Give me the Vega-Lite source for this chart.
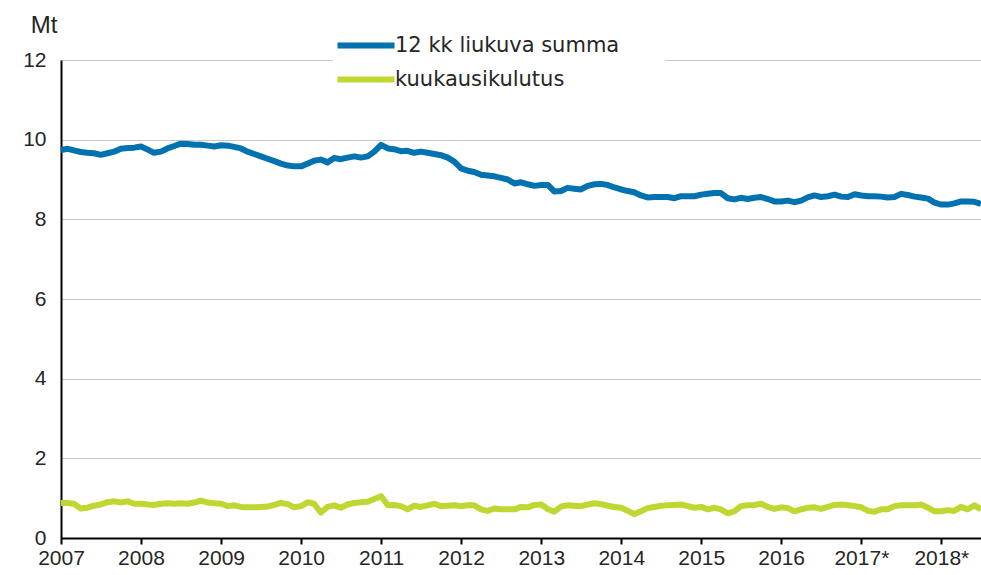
{
  "$schema": "https://vega.github.io/schema/vega-lite/v6.json",
  "width": 920,
  "height": 478,
  "autosize": {"type": "none"},
  "padding": {"left": 61, "top": 60, "right": 0, "bottom": 37},
  "background": "white",
  "config": {
    "view": {"stroke": null},
    "font": "Liberation Sans"
  },
  "data": {
    "values": [
      {"month":"2007-01","12 kk liukuva summa":9.74,"kuukausikulutus":0.88},
      {"month":"2007-02","12 kk liukuva summa":9.77,"kuukausikulutus":0.88},
      {"month":"2007-03","12 kk liukuva summa":9.73,"kuukausikulutus":0.86},
      {"month":"2007-04","12 kk liukuva summa":9.69,"kuukausikulutus":0.74},
      {"month":"2007-05","12 kk liukuva summa":9.67,"kuukausikulutus":0.76},
      {"month":"2007-06","12 kk liukuva summa":9.66,"kuukausikulutus":0.81},
      {"month":"2007-07","12 kk liukuva summa":9.62,"kuukausikulutus":0.84},
      {"month":"2007-08","12 kk liukuva summa":9.66,"kuukausikulutus":0.90},
      {"month":"2007-09","12 kk liukuva summa":9.70,"kuukausikulutus":0.92},
      {"month":"2007-10","12 kk liukuva summa":9.77,"kuukausikulutus":0.89},
      {"month":"2007-11","12 kk liukuva summa":9.79,"kuukausikulutus":0.92},
      {"month":"2007-12","12 kk liukuva summa":9.80,"kuukausikulutus":0.86},
      {"month":"2008-01","12 kk liukuva summa":9.83,"kuukausikulutus":0.86},
      {"month":"2008-02","12 kk liukuva summa":9.75,"kuukausikulutus":0.84},
      {"month":"2008-03","12 kk liukuva summa":9.67,"kuukausikulutus":0.83},
      {"month":"2008-04","12 kk liukuva summa":9.70,"kuukausikulutus":0.86},
      {"month":"2008-05","12 kk liukuva summa":9.78,"kuukausikulutus":0.87},
      {"month":"2008-06","12 kk liukuva summa":9.84,"kuukausikulutus":0.86},
      {"month":"2008-07","12 kk liukuva summa":9.90,"kuukausikulutus":0.87},
      {"month":"2008-08","12 kk liukuva summa":9.89,"kuukausikulutus":0.86},
      {"month":"2008-09","12 kk liukuva summa":9.87,"kuukausikulutus":0.89},
      {"month":"2008-10","12 kk liukuva summa":9.87,"kuukausikulutus":0.94},
      {"month":"2008-11","12 kk liukuva summa":9.85,"kuukausikulutus":0.89},
      {"month":"2008-12","12 kk liukuva summa":9.83,"kuukausikulutus":0.87},
      {"month":"2009-01","12 kk liukuva summa":9.86,"kuukausikulutus":0.86},
      {"month":"2009-02","12 kk liukuva summa":9.85,"kuukausikulutus":0.80},
      {"month":"2009-03","12 kk liukuva summa":9.82,"kuukausikulutus":0.82},
      {"month":"2009-04","12 kk liukuva summa":9.78,"kuukausikulutus":0.78},
      {"month":"2009-05","12 kk liukuva summa":9.70,"kuukausikulutus":0.77},
      {"month":"2009-06","12 kk liukuva summa":9.64,"kuukausikulutus":0.77},
      {"month":"2009-07","12 kk liukuva summa":9.58,"kuukausikulutus":0.78},
      {"month":"2009-08","12 kk liukuva summa":9.52,"kuukausikulutus":0.79},
      {"month":"2009-09","12 kk liukuva summa":9.46,"kuukausikulutus":0.83},
      {"month":"2009-10","12 kk liukuva summa":9.40,"kuukausikulutus":0.88},
      {"month":"2009-11","12 kk liukuva summa":9.35,"kuukausikulutus":0.85},
      {"month":"2009-12","12 kk liukuva summa":9.33,"kuukausikulutus":0.77},
      {"month":"2010-01","12 kk liukuva summa":9.33,"kuukausikulutus":0.80},
      {"month":"2010-02","12 kk liukuva summa":9.40,"kuukausikulutus":0.90},
      {"month":"2010-03","12 kk liukuva summa":9.47,"kuukausikulutus":0.86},
      {"month":"2010-04","12 kk liukuva summa":9.50,"kuukausikulutus":0.64},
      {"month":"2010-05","12 kk liukuva summa":9.43,"kuukausikulutus":0.78},
      {"month":"2010-06","12 kk liukuva summa":9.54,"kuukausikulutus":0.82},
      {"month":"2010-07","12 kk liukuva summa":9.51,"kuukausikulutus":0.76},
      {"month":"2010-08","12 kk liukuva summa":9.55,"kuukausikulutus":0.84},
      {"month":"2010-09","12 kk liukuva summa":9.58,"kuukausikulutus":0.88},
      {"month":"2010-10","12 kk liukuva summa":9.55,"kuukausikulutus":0.90},
      {"month":"2010-11","12 kk liukuva summa":9.58,"kuukausikulutus":0.91},
      {"month":"2010-12","12 kk liukuva summa":9.70,"kuukausikulutus":0.98},
      {"month":"2011-01","12 kk liukuva summa":9.87,"kuukausikulutus":1.05},
      {"month":"2011-02","12 kk liukuva summa":9.78,"kuukausikulutus":0.82},
      {"month":"2011-03","12 kk liukuva summa":9.76,"kuukausikulutus":0.83},
      {"month":"2011-04","12 kk liukuva summa":9.71,"kuukausikulutus":0.80},
      {"month":"2011-05","12 kk liukuva summa":9.72,"kuukausikulutus":0.72},
      {"month":"2011-06","12 kk liukuva summa":9.67,"kuukausikulutus":0.81},
      {"month":"2011-07","12 kk liukuva summa":9.70,"kuukausikulutus":0.78},
      {"month":"2011-08","12 kk liukuva summa":9.67,"kuukausikulutus":0.82},
      {"month":"2011-09","12 kk liukuva summa":9.64,"kuukausikulutus":0.86},
      {"month":"2011-10","12 kk liukuva summa":9.61,"kuukausikulutus":0.80},
      {"month":"2011-11","12 kk liukuva summa":9.55,"kuukausikulutus":0.81},
      {"month":"2011-12","12 kk liukuva summa":9.45,"kuukausikulutus":0.82},
      {"month":"2012-01","12 kk liukuva summa":9.28,"kuukausikulutus":0.80},
      {"month":"2012-02","12 kk liukuva summa":9.22,"kuukausikulutus":0.82},
      {"month":"2012-03","12 kk liukuva summa":9.19,"kuukausikulutus":0.82},
      {"month":"2012-04","12 kk liukuva summa":9.12,"kuukausikulutus":0.72},
      {"month":"2012-05","12 kk liukuva summa":9.10,"kuukausikulutus":0.68},
      {"month":"2012-06","12 kk liukuva summa":9.08,"kuukausikulutus":0.74},
      {"month":"2012-07","12 kk liukuva summa":9.04,"kuukausikulutus":0.72},
      {"month":"2012-08","12 kk liukuva summa":9.00,"kuukausikulutus":0.72},
      {"month":"2012-09","12 kk liukuva summa":8.90,"kuukausikulutus":0.72},
      {"month":"2012-10","12 kk liukuva summa":8.93,"kuukausikulutus":0.78},
      {"month":"2012-11","12 kk liukuva summa":8.88,"kuukausikulutus":0.77},
      {"month":"2012-12","12 kk liukuva summa":8.84,"kuukausikulutus":0.83},
      {"month":"2013-01","12 kk liukuva summa":8.86,"kuukausikulutus":0.84},
      {"month":"2013-02","12 kk liukuva summa":8.86,"kuukausikulutus":0.72},
      {"month":"2013-03","12 kk liukuva summa":8.70,"kuukausikulutus":0.66},
      {"month":"2013-04","12 kk liukuva summa":8.71,"kuukausikulutus":0.79},
      {"month":"2013-05","12 kk liukuva summa":8.79,"kuukausikulutus":0.82},
      {"month":"2013-06","12 kk liukuva summa":8.77,"kuukausikulutus":0.81},
      {"month":"2013-07","12 kk liukuva summa":8.75,"kuukausikulutus":0.80},
      {"month":"2013-08","12 kk liukuva summa":8.84,"kuukausikulutus":0.84},
      {"month":"2013-09","12 kk liukuva summa":8.88,"kuukausikulutus":0.87},
      {"month":"2013-10","12 kk liukuva summa":8.89,"kuukausikulutus":0.85},
      {"month":"2013-11","12 kk liukuva summa":8.86,"kuukausikulutus":0.81},
      {"month":"2013-12","12 kk liukuva summa":8.80,"kuukausikulutus":0.78},
      {"month":"2014-01","12 kk liukuva summa":8.75,"kuukausikulutus":0.76},
      {"month":"2014-02","12 kk liukuva summa":8.71,"kuukausikulutus":0.68},
      {"month":"2014-03","12 kk liukuva summa":8.68,"kuukausikulutus":0.60},
      {"month":"2014-04","12 kk liukuva summa":8.60,"kuukausikulutus":0.67},
      {"month":"2014-05","12 kk liukuva summa":8.55,"kuukausikulutus":0.75},
      {"month":"2014-06","12 kk liukuva summa":8.56,"kuukausikulutus":0.78},
      {"month":"2014-07","12 kk liukuva summa":8.56,"kuukausikulutus":0.81},
      {"month":"2014-08","12 kk liukuva summa":8.56,"kuukausikulutus":0.82},
      {"month":"2014-09","12 kk liukuva summa":8.53,"kuukausikulutus":0.83},
      {"month":"2014-10","12 kk liukuva summa":8.58,"kuukausikulutus":0.84},
      {"month":"2014-11","12 kk liukuva summa":8.58,"kuukausikulutus":0.80},
      {"month":"2014-12","12 kk liukuva summa":8.58,"kuukausikulutus":0.76},
      {"month":"2015-01","12 kk liukuva summa":8.62,"kuukausikulutus":0.78},
      {"month":"2015-02","12 kk liukuva summa":8.64,"kuukausikulutus":0.72},
      {"month":"2015-03","12 kk liukuva summa":8.66,"kuukausikulutus":0.76},
      {"month":"2015-04","12 kk liukuva summa":8.66,"kuukausikulutus":0.72},
      {"month":"2015-05","12 kk liukuva summa":8.53,"kuukausikulutus":0.62},
      {"month":"2015-06","12 kk liukuva summa":8.50,"kuukausikulutus":0.67},
      {"month":"2015-07","12 kk liukuva summa":8.54,"kuukausikulutus":0.80},
      {"month":"2015-08","12 kk liukuva summa":8.51,"kuukausikulutus":0.82},
      {"month":"2015-09","12 kk liukuva summa":8.54,"kuukausikulutus":0.83},
      {"month":"2015-10","12 kk liukuva summa":8.56,"kuukausikulutus":0.86},
      {"month":"2015-11","12 kk liukuva summa":8.51,"kuukausikulutus":0.78},
      {"month":"2015-12","12 kk liukuva summa":8.45,"kuukausikulutus":0.73},
      {"month":"2016-01","12 kk liukuva summa":8.45,"kuukausikulutus":0.77},
      {"month":"2016-02","12 kk liukuva summa":8.47,"kuukausikulutus":0.75},
      {"month":"2016-03","12 kk liukuva summa":8.43,"kuukausikulutus":0.67},
      {"month":"2016-04","12 kk liukuva summa":8.47,"kuukausikulutus":0.72},
      {"month":"2016-05","12 kk liukuva summa":8.55,"kuukausikulutus":0.76},
      {"month":"2016-06","12 kk liukuva summa":8.60,"kuukausikulutus":0.77},
      {"month":"2016-07","12 kk liukuva summa":8.56,"kuukausikulutus":0.73},
      {"month":"2016-08","12 kk liukuva summa":8.58,"kuukausikulutus":0.78},
      {"month":"2016-09","12 kk liukuva summa":8.62,"kuukausikulutus":0.83},
      {"month":"2016-10","12 kk liukuva summa":8.57,"kuukausikulutus":0.84},
      {"month":"2016-11","12 kk liukuva summa":8.56,"kuukausikulutus":0.82},
      {"month":"2016-12","12 kk liukuva summa":8.63,"kuukausikulutus":0.80},
      {"month":"2017-01","12 kk liukuva summa":8.60,"kuukausikulutus":0.77},
      {"month":"2017-02","12 kk liukuva summa":8.58,"kuukausikulutus":0.68},
      {"month":"2017-03","12 kk liukuva summa":8.58,"kuukausikulutus":0.66},
      {"month":"2017-04","12 kk liukuva summa":8.57,"kuukausikulutus":0.72},
      {"month":"2017-05","12 kk liukuva summa":8.55,"kuukausikulutus":0.72},
      {"month":"2017-06","12 kk liukuva summa":8.56,"kuukausikulutus":0.80},
      {"month":"2017-07","12 kk liukuva summa":8.64,"kuukausikulutus":0.82},
      {"month":"2017-08","12 kk liukuva summa":8.61,"kuukausikulutus":0.82},
      {"month":"2017-09","12 kk liukuva summa":8.57,"kuukausikulutus":0.82},
      {"month":"2017-10","12 kk liukuva summa":8.55,"kuukausikulutus":0.84},
      {"month":"2017-11","12 kk liukuva summa":8.52,"kuukausikulutus":0.76},
      {"month":"2017-12","12 kk liukuva summa":8.42,"kuukausikulutus":0.67},
      {"month":"2018-01","12 kk liukuva summa":8.37,"kuukausikulutus":0.67},
      {"month":"2018-02","12 kk liukuva summa":8.37,"kuukausikulutus":0.70},
      {"month":"2018-03","12 kk liukuva summa":8.40,"kuukausikulutus":0.68},
      {"month":"2018-04","12 kk liukuva summa":8.45,"kuukausikulutus":0.78},
      {"month":"2018-05","12 kk liukuva summa":8.45,"kuukausikulutus":0.72},
      {"month":"2018-06","12 kk liukuva summa":8.44,"kuukausikulutus":0.82},
      {"month":"2018-07","12 kk liukuva summa":8.39,"kuukausikulutus":0.72}
    ]
  },
  "transform": [
    {"fold": ["12 kk liukuva summa", "kuukausikulutus"], "as": ["sarja", "arvo"]}
  ],
  "mark": {"type": "line", "strokeWidth": 6, "strokeJoin": "round", "clip": false},
  "encoding": {
    "x": {
      "field": "month",
      "type": "temporal",
      "scale": {
        "type": "utc",
        "domain": [
          {"year": 2007, "month": 1, "date": 1, "utc": true},
          {"year": 2018, "month": 7, "date": 1, "utc": true}
        ]
      },
      "axis": {
        "title": null,
        "values": [
          {"year": 2007, "month": 1, "date": 1, "utc": true},
          {"year": 2008, "month": 1, "date": 1, "utc": true},
          {"year": 2009, "month": 1, "date": 1, "utc": true},
          {"year": 2010, "month": 1, "date": 1, "utc": true},
          {"year": 2011, "month": 1, "date": 1, "utc": true},
          {"year": 2012, "month": 1, "date": 1, "utc": true},
          {"year": 2013, "month": 1, "date": 1, "utc": true},
          {"year": 2014, "month": 1, "date": 1, "utc": true},
          {"year": 2015, "month": 1, "date": 1, "utc": true},
          {"year": 2016, "month": 1, "date": 1, "utc": true},
          {"year": 2017, "month": 1, "date": 1, "utc": true},
          {"year": 2018, "month": 1, "date": 1, "utc": true}
        ],
        "labelExpr": "utcFormat(datum.value, '%Y') + (utcyear(datum.value) >= 2017 ? '*' : '')",
        "grid": false,
        "domainColor": "#000000",
        "domainWidth": 2,
        "tickColor": "#000000",
        "tickWidth": 2,
        "tickSize": 6,
        "labelFont": "Liberation Sans",
        "labelFontSize": 21,
        "labelColor": "#262626",
        "labelPadding": 3,
        "labelFlush": false,
        "labelOverlap": false
      }
    },
    "y": {
      "field": "arvo",
      "type": "quantitative",
      "scale": {"domain": [0, 12], "nice": false, "zero": true},
      "axis": {
        "title": "Mt",
        "titleAngle": 0,
        "titleAlign": "right",
        "titleBaseline": "middle",
        "titleX": -4,
        "titleY": -35,
        "titleFont": "Liberation Sans",
        "titleFontSize": 24,
        "titleFontWeight": "normal",
        "titleColor": "#262626",
        "values": [0, 2, 4, 6, 8, 10, 12],
        "grid": true,
        "gridColor": "#C8C8C8",
        "gridWidth": 1,
        "domainColor": "#000000",
        "domainWidth": 2,
        "ticks": false,
        "labelFont": "Liberation Sans",
        "labelFontSize": 21,
        "labelColor": "#262626",
        "labelPadding": 15
      }
    },
    "color": {
      "field": "sarja",
      "type": "nominal",
      "scale": {
        "domain": ["12 kk liukuva summa", "kuukausikulutus"],
        "range": ["#0072B0", "#BFD730"]
      },
      "legend": {
        "title": null,
        "orient": "none",
        "legendX": 272,
        "legendY": -70,
        "direction": "vertical",
        "fillColor": "white",
        "padding": 45,
        "symbolType": "M-8.5,0L1,0",
        "symbolSize": 144,
        "symbolStrokeWidth": 6,
        "symbolFillColor": "transparent",
        "labelFont": "DejaVu Sans",
        "labelFontSize": 21,
        "labelLimit": 0,
        "labelColor": "#262626",
        "labelOffset": -4,
        "rowPadding": 9
      }
    }
  }
}
